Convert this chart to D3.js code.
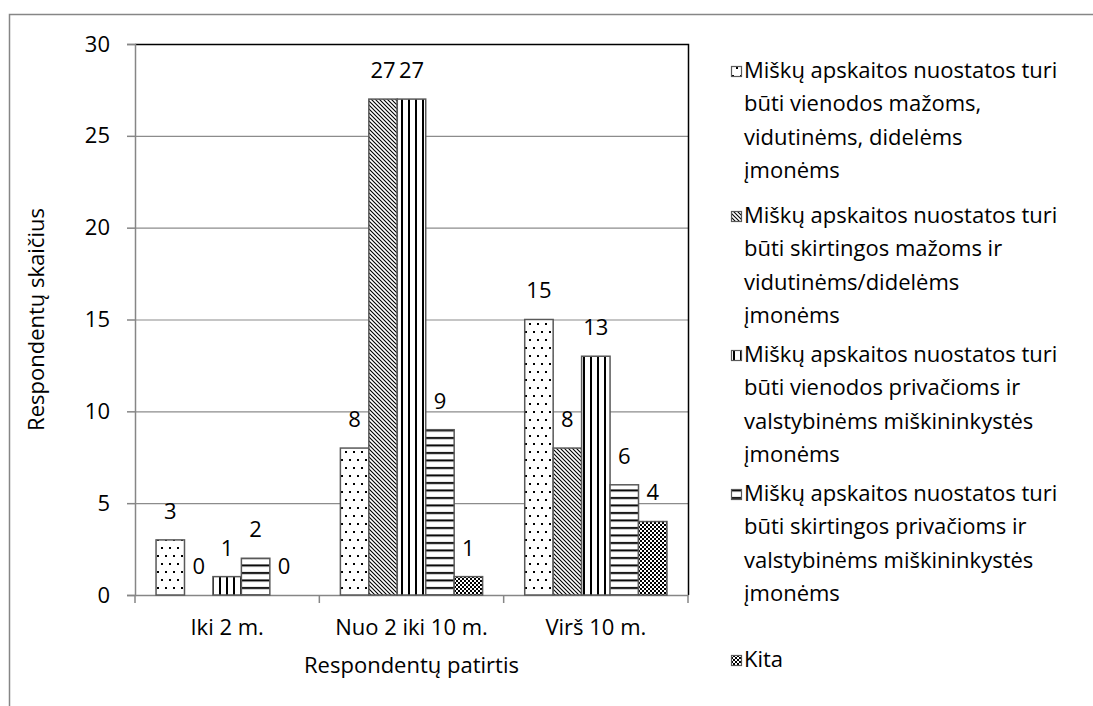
<!DOCTYPE html>
<html>
<head>
<meta charset="utf-8">
<script src="https://cdn.jsdelivr.net/npm/d3@7"></script>
<style>
  body { margin: 0; background: #fff; }
  text { font-family: "Open Sans", sans-serif; fill: #000; }
</style>
</head>
<body>
<div class="container"></div>
<script>
var categories = ["Iki 2 m.", "Nuo 2 iki 10 m.", "Virš 10 m."];
var seriesNames = [
    ["Miškų apskaitos nuostatos turi", "būti vienodos mažoms,", "vidutinėms, didelėms", "įmonėms"],
    ["Miškų apskaitos nuostatos turi", "būti skirtingos mažoms ir", "vidutinėms/didelėms", "įmonėms"],
    ["Miškų apskaitos nuostatos turi", "būti vienodos privačioms ir", "valstybinėms miškininkystės", "įmonėms"],
    ["Miškų apskaitos nuostatos turi", "būti skirtingos privačioms ir", "valstybinėms miškininkystės", "įmonėms"],
    ["Kita"]
];
var s1 = [3, 8, 15];
var s2 = [0, 27, 8];
var s3 = [1, 27, 13];
var s4 = [2, 9, 6];
var s5 = [0, 1, 4];
var yTicks = [0, 5, 10, 15, 20, 25, 30];

var series = [s1, s2, s3, s4, s5];
var patterns = ["p-dots", "p-diag", "p-vert", "p-horiz", "p-check"];

var width = 1093, height = 706;
var margin = {top: 44, left: 135, right: 405, bottom: 111};
var fs = "22px";

var svg = d3.select("div.container").append("svg")
    .attr("width", width)
    .attr("height", height);

// fill patterns
var defs = svg.append("defs");

var pd = defs.append("pattern").attr("id", "p-dots")
    .attr("patternUnits", "userSpaceOnUse").attr("width", 8).attr("height", 16);
pd.append("rect").attr("width", 8).attr("height", 16).attr("fill", "#fff");
pd.append("rect").attr("x", 1).attr("y", 3).attr("width", 2).attr("height", 2).attr("fill", "#000");
pd.append("rect").attr("x", 5).attr("y", 11).attr("width", 2).attr("height", 2).attr("fill", "#000");

var pg = defs.append("pattern").attr("id", "p-diag")
    .attr("patternUnits", "userSpaceOnUse").attr("width", 4).attr("height", 4);
pg.append("rect").attr("width", 4).attr("height", 4).attr("fill", "#fff");
pg.append("path").attr("d", "M-1,-1L5,5M-1,3L1,5M3,-1L5,1")
    .attr("stroke", "#000").attr("stroke-width", 1.1);

var pv = defs.append("pattern").attr("id", "p-vert")
    .attr("patternUnits", "userSpaceOnUse").attr("width", 7).attr("height", 7);
pv.append("rect").attr("width", 7).attr("height", 7).attr("fill", "#fff");
pv.append("rect").attr("x", 2).attr("width", 2).attr("height", 7).attr("fill", "#000");

var ph = defs.append("pattern").attr("id", "p-horiz")
    .attr("patternUnits", "userSpaceOnUse").attr("width", 7).attr("height", 7.5);
ph.append("rect").attr("width", 7).attr("height", 7.5).attr("fill", "#fff");
ph.append("rect").attr("y", 2).attr("width", 7).attr("height", 2).attr("fill", "#000");

var pc = defs.append("pattern").attr("id", "p-check")
    .attr("patternUnits", "userSpaceOnUse").attr("width", 4).attr("height", 4);
pc.append("rect").attr("width", 4).attr("height", 4).attr("fill", "#fff");
pc.append("rect").attr("x", 0).attr("y", 0).attr("width", 2).attr("height", 2).attr("fill", "#000");
pc.append("rect").attr("x", 2).attr("y", 2).attr("width", 2).attr("height", 2).attr("fill", "#000");
pc.append("rect").attr("x", 1).attr("y", 1).attr("width", 1).attr("height", 1).attr("fill", "#000");
pc.append("rect").attr("x", 3).attr("y", 3).attr("width", 1).attr("height", 1).attr("fill", "#000");

// outer frame (runs off the page to the right and bottom)
svg.append("rect")
    .attr("x", 9.5).attr("y", 14.5)
    .attr("width", 1200).attr("height", 800)
    .attr("fill", "none").attr("stroke", "#868686").attr("stroke-width", 1.5);

var x0 = d3.scaleBand()
    .domain(categories)
    .range([margin.left, width - margin.right]);

var x1 = d3.scaleBand()
    .domain(d3.range(series.length))
    .range([0, x0.bandwidth()])
    .paddingOuter(0.74);

var y = d3.scaleLinear()
    .domain([0, 30])
    .range([height - margin.bottom, margin.top]);

var plotLeft = margin.left, plotRight = width - margin.right;

// gridlines
svg.append("g").selectAll("line")
    .data(yTicks.filter(function(d) { return d > 0 && d < 30; }))
    .enter().append("line")
    .attr("x1", plotLeft).attr("x2", plotRight)
    .attr("y1", function(d) { return y(d) + 0.5; })
    .attr("y2", function(d) { return y(d) + 0.5; })
    .attr("stroke", "#8c8c8c").attr("stroke-width", 1.2);

// top and right border of plot area
svg.append("path")
    .attr("d", "M" + plotLeft + "," + (y(30) + 0.5) + "H" + (plotRight + 0.5) + "V" + y(0))
    .attr("fill", "none").attr("stroke", "#000").attr("stroke-width", 1.5);

// y axis
var yAxis = svg.append("g")
    .attr("transform", "translate(" + plotLeft + ",0)")
    .call(d3.axisLeft(y).tickValues(yTicks).tickSize(8).tickPadding(17));
yAxis.select(".domain").attr("stroke", "#868686").attr("stroke-width", 1.5);
yAxis.selectAll(".tick line").attr("stroke", "#868686").attr("stroke-width", 1.5);
yAxis.selectAll("text").style("font-size", fs).style("font-family", "Open Sans");

// x axis
var xAxis = svg.append("g")
    .attr("transform", "translate(0," + y(0) + ")")
    .call(d3.axisBottom(x0).tickSize(0).tickPadding(24));
xAxis.select(".domain").attr("stroke", "#868686").attr("stroke-width", 1.5);
xAxis.selectAll("text").style("font-size", fs).style("font-family", "Open Sans");

// category boundary ticks
svg.append("g").selectAll("line")
    .data([plotLeft].concat(categories.map(function(c) { return x0(c) + x0.bandwidth(); })))
    .enter().append("line")
    .attr("x1", function(d) { return d; }).attr("x2", function(d) { return d; })
    .attr("y1", y(0)).attr("y2", y(0) + 8)
    .attr("stroke", "#868686").attr("stroke-width", 1.5);

// bars + value labels
series.forEach(function(vals, si) {
    var pts = vals.map(function(v, ci) { return {v: v, cat: categories[ci]}; });
    var g = svg.append("g").attr("fill", "url(#" + patterns[si] + ")");

    g.selectAll("rect")
        .data(pts.filter(function(d) { return d.v > 0; }))
        .enter().append("rect")
        .attr("x", function(d) { return x0(d.cat) + x1(si); })
        .attr("y", function(d) { return y(d.v); })
        .attr("width", x1.bandwidth())
        .attr("height", function(d) { return y(0) - y(d.v); })
        .attr("stroke", "#595959").attr("stroke-width", 1.5);

    g.selectAll("text")
        .data(pts)
        .enter().append("text")
        .attr("x", function(d) { return x0(d.cat) + x1(si) + x1.bandwidth() / 2; })
        .attr("y", function(d) { return y(d.v) - 27; })
        .attr("text-anchor", "middle")
        .attr("dominant-baseline", "middle")
        .style("font-size", fs)
        .style("fill", "#000")
        .text(function(d) { return d.v; });
});

// axis titles
svg.append("text")
    .attr("transform", "translate(38," + ((y(0) + y(30)) / 2) + ") rotate(-90)")
    .attr("text-anchor", "middle")
    .attr("dominant-baseline", "middle")
    .style("font-size", fs)
    .text("Respondentų skaičius");

svg.append("text")
    .attr("x", (plotLeft + plotRight) / 2)
    .attr("y", 667)
    .attr("text-anchor", "middle")
    .attr("dominant-baseline", "middle")
    .style("font-size", fs)
    .text("Respondentų patirtis");

// legend
var legendTop = [72, 217, 356, 495, 661];
var lineH = 33.5;
var legend = svg.append("g").selectAll("g")
    .data(seriesNames)
    .enter().append("g")
    .attr("transform", function(d, i) { return "translate(731," + legendTop[i] + ")"; });

legend.append("rect")
    .attr("x", 0.5).attr("y", -5.5)
    .attr("width", 10).attr("height", 10)
    .attr("fill", function(d, i) { return "url(#" + patterns[i] + ")"; })
    .attr("stroke", "#595959").attr("stroke-width", 1.2);

legend.each(function(lines) {
    d3.select(this).selectAll("text")
        .data(lines)
        .enter().append("text")
        .attr("x", 13)
        .attr("y", function(d, j) { return j * lineH; })
        .attr("dominant-baseline", "middle")
        .style("font-size", fs)
        .text(function(d) { return d; });
});
</script>
</body>
</html>
